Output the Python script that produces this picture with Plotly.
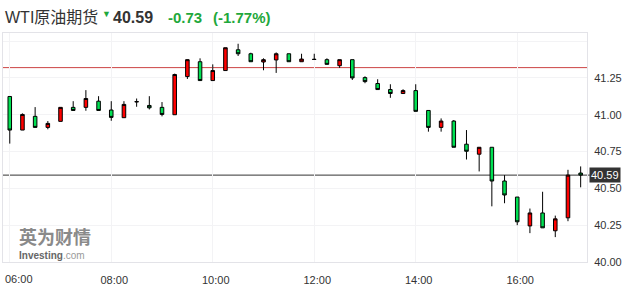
import plotly.graph_objects as go
import pandas as pd

# ---- data (15-minute candles) ----
start_time = "2020-09-11 06:00"
opens  = [41.124, 40.896, 40.989, 40.914, 40.955, 41.050, 41.050, 41.092, 41.032, 40.980,
          41.087, 41.063, 41.050, 41.000, 41.259, 41.360, 41.232, 41.300, 41.441, 41.414,
          41.358, 41.372, 41.414, 41.360, 41.377, 41.374, 41.333, 41.374, 41.252, 41.212,
          41.171, 41.144, 41.164, 41.029, 40.914, 40.957, 40.800, 40.732, 40.779, 40.550,
          40.441, 40.245, 40.333, 40.212, 40.300, 40.604]
highs  = [41.124, 41.009, 41.052, 40.957, 41.050, 41.092, 41.167, 41.126, 41.092, 41.092,
          41.110, 41.126, 41.086, 41.279, 41.376, 41.383, 41.342, 41.455, 41.482, 41.421,
          41.383, 41.423, 41.414, 41.414, 41.414, 41.383, 41.374, 41.374, 41.261, 41.241,
          41.207, 41.173, 41.207, 41.029, 40.975, 40.964, 40.896, 40.779, 40.779, 40.590,
          40.441, 40.363, 40.477, 40.315, 40.626, 40.649]
lows   = [40.804, 40.896, 40.914, 40.901, 40.955, 41.029, 41.027, 41.029, 40.959, 40.980,
          41.054, 41.036, 40.989, 41.000, 41.243, 41.232, 41.232, 41.300, 41.399, 41.360,
          41.302, 41.284, 41.360, 41.360, 41.375, 41.342, 41.318, 41.236, 41.214, 41.171,
          41.115, 41.144, 41.023, 40.885, 40.885, 40.779, 40.696, 40.615, 40.378, 40.399,
          40.250, 40.196, 40.232, 40.169, 40.277, 40.507]
closes = [40.896, 41.002, 40.914, 40.941, 41.050, 41.029, 41.110, 41.029, 40.982, 41.070,
          41.089, 41.047, 41.002, 41.273, 41.374, 41.232, 41.300, 41.455, 41.414, 41.360,
          41.374, 41.414, 41.360, 41.378, 41.375, 41.342, 41.374, 41.250, 41.225, 41.171,
          41.144, 41.164, 41.023, 40.914, 40.957, 40.779, 40.752, 40.779, 40.550, 40.455,
          40.273, 40.333, 40.232, 40.293, 40.590, 40.590]
prev_close = 41.32
last_price = 40.59
change = "-0.73"
change_pct = "(-1.77%)"
title = "WTI原油期货"

y_tickvals = [40.00, 40.25, 40.50, 40.75, 41.00, 41.25, 41.50]
y_ticktext = ["40.00", "40.25", "40.50", "40.75", "41.00", "41.25", ""]
x_tickvals = ["06:00", "08:00", "10:00", "12:00", "14:00", "16:00"]

# ---- build ----
day = start_time.split(" ")[0]
times = pd.date_range(start=start_time, periods=len(opens), freq="15min")

RED = "#ff0000"
GREEN = "#00e052"
TXTGREEN = "#1fa83c"
FONT = "Liberation Sans, Arial, Noto Sans CJK SC, sans-serif"

fig = go.Figure()
fig.add_trace(go.Candlestick(
    x=times, open=opens, high=highs, low=lows, close=closes,
    increasing=dict(line=dict(color="#000000", width=1), fillcolor=RED),
    decreasing=dict(line=dict(color="#000000", width=1), fillcolor=GREEN),
    whiskerwidth=0, showlegend=False, hoverinfo="skip",
))

# reference lines
fig.add_shape(type="line", xref="paper", x0=0, x1=1, yref="y", y0=prev_close, y1=prev_close,
              line=dict(color="#cc4444", width=1), layer="below")
fig.add_shape(type="line", xref="paper", x0=0, x1=1.005, yref="y", y0=last_price, y1=last_price,
              line=dict(color="#333333", width=1), layer="below")

# price label on the axis
fig.add_annotation(xref="paper", x=1, yref="y", y=last_price, xanchor="left", yanchor="middle",
                   text=f"{last_price:.2f}", showarrow=False, xshift=2,
                   font=dict(family=FONT, size=11, color="#ffffff"),
                   bgcolor="#333333", borderpad=1)

# header
def head(text, px, size, color, bold=False, yshift=16):
    fig.add_annotation(xref="paper", x=0, yref="paper", y=1, xanchor="left", yanchor="middle",
                       text=f"<b>{text}</b>" if bold else text, showarrow=False,
                       xshift=px - 3, yshift=yshift,
                       font=dict(family=FONT, size=size, color=color))

head(title, 3, 16, "#333333")
head("▼", 100, 9, TXTGREEN, yshift=19)
head(f"{last_price:.2f}", 111, 16, "#333333", bold=True)
head(change, 166, 15, TXTGREEN, bold=True)
head(change_pct, 211, 15, TXTGREEN, bold=True)

# watermark
fig.add_annotation(xref="paper", x=0, yref="paper", y=0, xanchor="left", yanchor="middle",
                   text="<b>英为财情</b>", showarrow=False, xshift=14, yshift=262 - 235.5,
                   font=dict(family="Noto Sans CJK SC", size=18, color="#8a8a8a"))
fig.add_annotation(xref="paper", x=0, yref="paper", y=0, xanchor="left", yanchor="middle",
                   text="<b>Investing</b><span style='color:#9a9a9a'>.com</span>", showarrow=False,
                   xshift=14, yshift=262 - 255.5,
                   font=dict(family=FONT, size=10, color="#666666"))

x_ticks = [f"{day} {t}" for t in x_tickvals]
x_text = [""] + x_tickvals[1:]
# first time label sits inside the left edge, drawn at its axis position
fig.add_annotation(xref="x", x=x_ticks[0], yref="paper", y=0, xanchor="center", yanchor="top",
                   text=x_tickvals[0], showarrow=False, xshift=9, yshift=-9,
                   font=dict(family=FONT, size=11, color="#333333"))

fig.update_layout(
    width=630, height=290,
    margin=dict(l=3, r=43, t=33, b=28),
    paper_bgcolor="#ffffff", plot_bgcolor="#ffffff",
    boxgap=0.6, boxgroupgap=0.3,
    font=dict(family=FONT, size=11, color="#333333"),
    xaxis=dict(
        type="date", rangeslider=dict(visible=False),
        range=[f"{day} 05:52", f"{day} 17:22:30"],
        tickvals=x_ticks, ticktext=x_text, ticklabelshift=3, ticklabelstandoff=8,
        showgrid=True, gridcolor="#f3f3f5", gridwidth=1,
        showline=True, linecolor="#e3e3e8", mirror=True, linewidth=1,
        ticks="", zeroline=False, tickfont=dict(size=11, color="#333333"),
        fixedrange=True,
    ),
    yaxis=dict(
        side="right", range=[40.0, 41.555],
        tickvals=y_tickvals, ticktext=y_ticktext,
        showgrid=True, gridcolor="#f3f3f5", gridwidth=1,
        showline=True, linecolor="#e3e3e8", mirror=True, linewidth=1,
        ticks="", zeroline=False, ticklabelstandoff=4,
        tickfont=dict(size=11, color="#333333"), fixedrange=True,
    ),
)

fig.write_html("out.html")
